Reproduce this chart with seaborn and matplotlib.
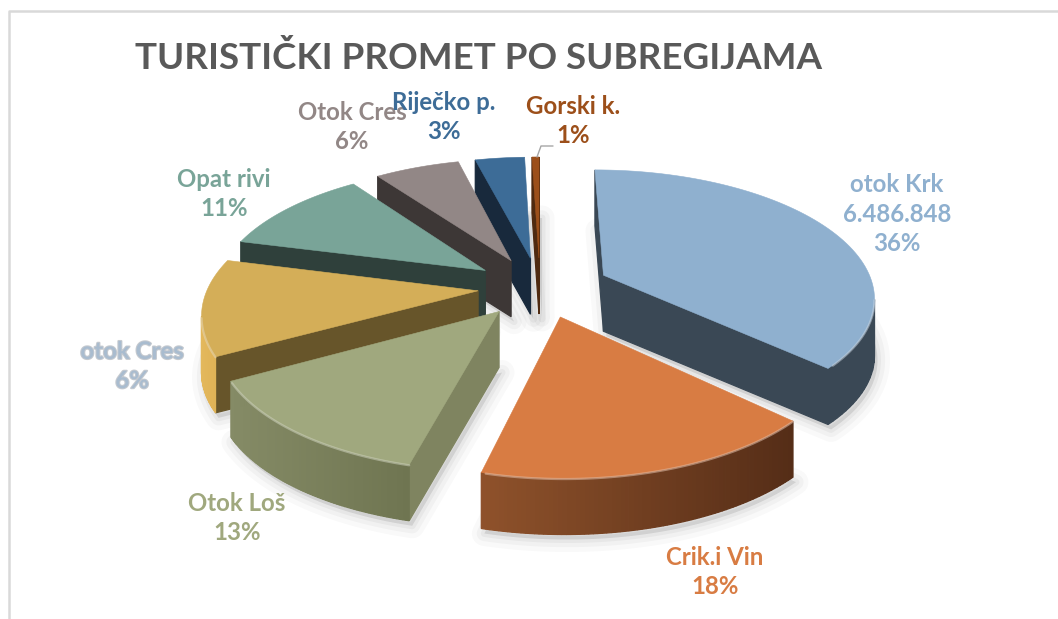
import numpy as np
import matplotlib
matplotlib.use('Agg')
import matplotlib.pyplot as plt
import matplotlib.patheffects as pe
import seaborn as sns

#%% ----------------- Data -----------------------------
# slice sizes, clockwise from 12 o'clock
names = ['otok Krk', 'Crik.i Vin', 'Otok Loš', 'otok Cres', 'Opat rivi', 'Otok Cres', 'Riječko p.', 'Gorski k.']
shares = [37, 17, 13, 12, 11, 6, 3.5, 0.5]
# printed labels (the gold slice really does say 6%)
printed = ['6.486.848\n36%', '18%', '13%', '6%', '11%', '6%', '3%', '1%']
title = 'TURISTIČKI PROMET PO SUBREGIJAMA'

top_colors = ['#8fb0cf', '#d87c43', '#a0a87e', '#d4ae58', '#79a498', '#928786', '#3d6c97', '#9c4f1a']
side_colors = ['#3a4855', '#5c3119', '#7f8460', '#67552a', '#2f403b', '#3d3736', '#18293c', '#4f2a10']
rim_left = ['#3a4855', '#8f522b', '#858b66', '#e3b85c', '#2f403b', '#3d3736', '#18293c', '#4f2a10']
rim_right = ['#3a4855', '#552d17', '#6f7551', '#dcae52', '#2f403b', '#3d3736', '#18293c', '#4f2a10']
label_colors = ['#8fb0cf', '#d87c43', '#a0a87e', '#a9bccf', '#79a498', '#928786', '#3d6c97', '#9c4f1a']
label_xy = [(897, 214), (715, 572), (237, 518), (132, 366), (224, 194), (352, 127), (444, 117), (573, 121)]

#%% ----------------- Pie geometry -----------------------------
CX, CY = 540, 287     # pie centre in the picture
A, B = 270, 125.4     # radius across and into the page
K = 0.158             # perspective strength
EXPLODE_X = [0.26, 0.26, 0.24, 0.23, 0.25, 0.26, 0.26, 0.26]
EXPLODE_Y = 0.24
DEPTH = 56


def project(u, v):
    s = 1 / (1 - K * v)
    return CX + A * u * s, CY + B * v * s


sns.set_theme(style='white')
plt.rcParams['font.family'] = ['Lato', 'DejaVu Sans']
fig = plt.figure(figsize=(10.58, 6.19), dpi=100)
ax = fig.add_axes([0, 0, 1, 1])
ax.set_xlim(0, 1058)
ax.set_ylim(619, 0)
ax.axis('off')

# chart frame
ax.plot([9, 9, 1058], [619, 11, 11], color='#d9d9d9', lw=1.8)

palette = sns.color_palette(top_colors)
edges = np.cumsum([0] + shares) / sum(shares) * 2 * np.pi
outlines = {}
for i in range(len(shares)):
    mid = (edges[i] + edges[i + 1]) / 2
    u0, v0 = EXPLODE_X[i] * np.sin(mid), -EXPLODE_Y * np.cos(mid)
    th = np.linspace(edges[i], edges[i + 1], 80)
    us = np.r_[u0, u0 + np.sin(th)]
    vs = np.r_[v0, v0 - np.cos(th)]
    outlines[i] = project(us, vs)

# back to front
order = [7, 6, 5, 4, 3, 0, 2, 1]
for i in order:
    x, y = outlines[i]
    # soft shadow under the block
    for lw, a in [(18, 0.025), (11, 0.03), (5, 0.04)]:
        ax.fill(x + 3, y + DEPTH + 5, color='black', alpha=a, lw=lw, joinstyle='round', zorder=1)

for z, i in enumerate(order):
    x, y = outlines[i]
    n = len(x)
    lo, hi = np.array(matplotlib.colors.to_rgb(rim_left[i])), np.array(matplotlib.colors.to_rgb(rim_right[i]))
    rim_x, rim_y = [], []
    for j in range(n):
        k = (j + 1) % n
        # only the edges that face the viewer get a side wall
        ny = -(x[k] - x[j])
        if ny <= 0:
            continue
        is_radial = j == 0 or k == 0
        if is_radial:
            c = side_colors[i]
        else:
            f = (x[j] - x[1:].min()) / max(x[1:].max() - x[1:].min(), 1)
            c = tuple(lo + (hi - lo) * f)
            rim_x.append(x[j])
            rim_y.append(y[j])
        ax.fill([x[j], x[k], x[k], x[j]], [y[j], y[k], y[k] + DEPTH, y[j] + DEPTH],
                color=c, lw=0.9, zorder=10 + z)
    ax.fill(x, y, color=palette[i], lw=0.4, zorder=10 + z + 0.5)
    # bevel light along the front rim
    if len(rim_x) > 2:
        light = sns.light_palette(top_colors[i], 4)[1]
        ax.plot(rim_x, np.array(rim_y) + 0.5, color=light, lw=1.6, alpha=0.5, zorder=10 + z + 0.6,
                solid_capstyle='round')

#%% ----------------- Text -----------------------------
ax.text(135, 58, title, fontsize=26.5, fontweight='bold', color='#595959', ha='left', va='center')

for i, name in enumerate(names):
    effects = None
    if i == 3:
        effects = [pe.withStroke(linewidth=1.5, foreground='#c6cacf')]
    ax.text(label_xy[i][0], label_xy[i][1], name + '\n' + printed[i], fontsize=17.3, fontweight='bold',
            color=label_colors[i], ha='center', va='center', linespacing=1.33, zorder=40, path_effects=effects)

# leader line of the smallest slice
ax.plot([537, 541, 553], [157, 146, 146], color='#a6a6a6', lw=1, zorder=40)

plt.savefig('out.png', dpi=100)
